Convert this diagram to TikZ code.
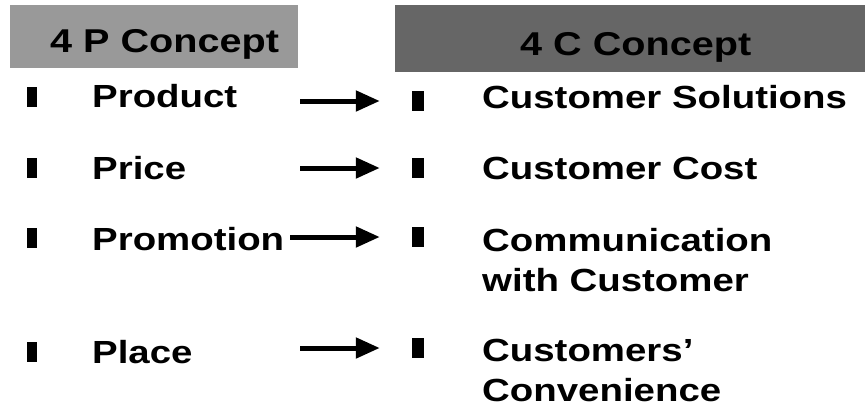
\documentclass[tikz,border=0pt]{standalone}
\usepackage{fontspec}
\setmainfont{Liberation Sans}[FakeStretch=1.2]
\usetikzlibrary{arrows.meta}

\begin{document}
\begin{tikzpicture}[x=1pt, y=-1pt,
          header/.style={fill=black!40, draw=none},
          title/.style={anchor=base west, inner sep=0pt, font=\fontsize{33}{40}\selectfont\bfseries},
          item/.style={anchor=base west, inner sep=0pt, align=left, font=\fontsize{32}{40}\selectfont\bfseries},
          bullet/.style={rectangle, fill=black, inner sep=0pt, minimum width=10pt, minimum height=20pt},
          arrow/.style={line width=5pt, -{Triangle[length=24pt, width=20pt]}, shorten >=32pt}
        ]
          \useasboundingbox (0,0) rectangle (865,407);

          % header bars
          \fill[header] (10,5) rectangle (298,68);
          \fill[header, fill=black!60] (395,5) rectangle (865,72);
          \node[title] (tp) at (50,52) {4 P Concept};
          \node[title] (tc) at (520,55) {4 C Concept};

          % 4 P items
          \node[bullet] (lb1) at (32,97) {};
          \node[bullet] (lb2) at (32,168) {};
          \node[bullet] (lb3) at (32,238) {};
          \node[bullet] (lb4) at (32,352) {};
          \node[item] (p1) at (92,107) {Product};
          \node[item] (p2) at (92,179) {Price};
          \node[item] (p3) at (92,250) {Promotion};
          \node[item] (p4) at (92,363) {Place};

          % 4 C items (two-line nodes sit on their last line)
          \node[bullet, minimum width=12pt] (rb1) at (418,101) {};
          \node[bullet, minimum width=12pt] (rb2) at (418,168) {};
          \node[bullet, minimum width=12pt] (rb3) at (418,237) {};
          \node[bullet, minimum width=12pt] (rb4) at (418,348) {};
          \node[item] (c1) at (482,108) {Customer Solutions};
          \node[item] (c2) at (482,179) {Customer Cost};
          \node[item] (c3) at (482,291) {Communication\\with Customer};
          \node[item] (c4) at (482,401) {Customers'\\Convenience};

          % arrow starts
          \coordinate (a1) at (300,101);
          \coordinate (a2) at (300,168);
          \coordinate (a3) at (290,237);
          \coordinate (a4) at (300,348);

          % arrows
          \draw[arrow] (a1) -- (rb1.west);
          \draw[arrow] (a2) -- (rb2.west);
          \draw[arrow] (a3) -- (rb3.west);
          \draw[arrow] (a4) -- (rb4.west);
\end{tikzpicture}
\end{document}
